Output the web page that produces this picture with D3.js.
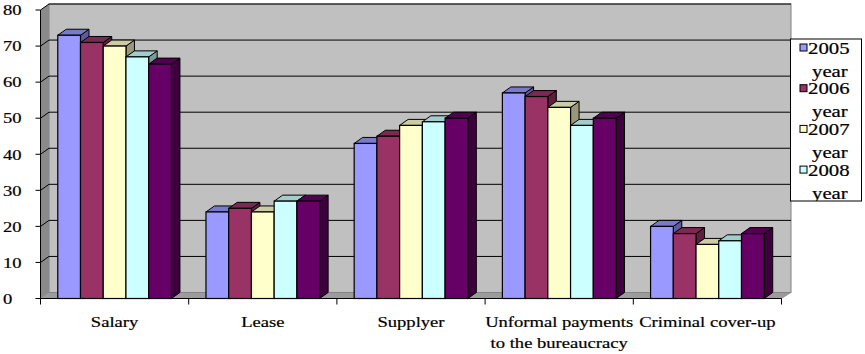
<!DOCTYPE html>
<html>
<head>
<meta charset="utf-8">
<script src="https://cdn.jsdelivr.net/npm/d3@7"></script>
<style>
body { margin: 0; background: #fff; }
</style>
</head>
<body>
<div id="chart"></div>
<script>
// data
var categories = ["Salary", "Lease", "Supplyer", "Unformal payments\nto the bureaucracy", "Criminal cover-up"];
var years = ["2005 year", "2006 year", "2007 year", "2008 year", "2009 year"];
var v2005 = [73, 24, 43, 57, 20];
var v2006 = [71, 25, 45, 56, 18];
var v2007 = [70, 24, 48, 53, 15];
var v2008 = [67, 27, 49, 48, 16];
var v2009 = [65, 27, 50, 50, 18];
var yTicks = [0, 10, 20, 30, 40, 50, 60, 70, 80];
var colors = ["#9999ff", "#993366", "#ffffcc", "#ccffff", "#660066"];

var series = [v2005, v2006, v2007, v2008, v2009];

var width = 865, height = 354;
var dx = 8.5, dy = -6;   // 3d depth offset
var stretch = 1.24;      // text looks wider than tall in the original
var serif = "'Liberation Serif', 'Times New Roman', Times, serif";

var svg = d3.select("#chart")
  .append("svg")
    .attr("width", width)
    .attr("height", height)
    .attr("font-family", serif);

svg.append("rect").attr("width", width).attr("height", height).attr("fill", "#fff");

var x0 = d3.scaleBand()
  .domain(categories)
  .range([40.5, 781.5])
  .paddingInner(0);

var x1 = d3.scaleBand()
  .domain(years)
  .range([0, x0.bandwidth()])
  .paddingInner(0)
  .paddingOuter(0.76);

var y = d3.scaleLinear()
  .domain([0, 80])
  .range([298.5, 10]);

var left = x0.range()[0], right = x0.range()[1];

// walls and floor
svg.append("rect")
  .attr("x", left + dx).attr("y", y(80) + dy)
  .attr("width", right - left + 1).attr("height", y(0) - y(80))
  .attr("fill", "#c0c0c0")
  .attr("stroke", "#808080");

svg.append("polygon")
  .attr("points", [[left, y(80)], [left + dx, y(80) + dy], [left + dx, y(0) + dy], [left, y(0)]].join(" "))
  .attr("fill", "#8a8a8a");

svg.append("polygon")
  .attr("points", [[left, y(0)], [left + dx, y(0) + dy], [right + dx + 1, y(0) + dy], [right, y(0)]].join(" "))
  .attr("fill", "#9c9c9c")
  .attr("stroke", "#808080")
  .attr("stroke-width", 0.6);

// gridlines on back wall and side wall
yTicks.filter(function(d) { return d > 0; }).forEach(function(v) {
  svg.append("line")
    .attr("x1", left + dx).attr("x2", right + dx + 1)
    .attr("y1", y(v) + dy).attr("y2", y(v) + dy)
    .attr("stroke", "#000");
  svg.append("line")
    .attr("x1", left).attr("x2", left + dx)
    .attr("y1", y(v)).attr("y2", y(v) + dy)
    .attr("stroke", "#000");
});

// value axis
svg.append("line")
  .attr("x1", left).attr("x2", left)
  .attr("y1", y(0)).attr("y2", y(80))
  .attr("stroke", "#000");

svg.selectAll(".ytick")
  .data(yTicks)
  .enter()
  .append("line")
    .attr("x1", left - 5).attr("x2", left)
    .attr("y1", function(d) { return y(d); })
    .attr("y2", function(d) { return y(d); })
    .attr("stroke", "#000");

svg.selectAll(".ylab")
  .data(yTicks)
  .enter()
  .append("text")
    .attr("transform", function(d) { return "translate(3," + y(d) + ") scale(" + stretch + ",1)"; })
    .attr("dy", "0.35em")
    .attr("font-family", serif)
    .attr("font-size", 15)
    .attr("stroke", "#000").attr("stroke-width", 0.2)
    .text(function(d) { return d; });

// bars
function shade(c, k) {
  var r = d3.rgb(c);
  return d3.rgb(r.r * k, r.g * k, r.b * k).toString();
}

categories.forEach(function(cat, i) {
  years.forEach(function(yr, j) {
    var v = series[j][i];
    var bx = x0(cat) + x1(yr), w = x1.bandwidth();
    var top = y(v), bottom = y(0);
    var g = svg.append("g");
    g.append("polygon")
      .attr("points", [[bx + w, top], [bx + w + dx, top + dy], [bx + w + dx, bottom + dy], [bx + w, bottom]].join(" "))
      .attr("fill", shade(colors[j], 0.6))
      .attr("stroke", "#000").attr("stroke-width", 1).attr("stroke-linejoin", "round");
    g.append("polygon")
      .attr("points", [[bx, top], [bx + dx, top + dy], [bx + w + dx, top + dy], [bx + w, top]].join(" "))
      .attr("fill", shade(colors[j], 0.8))
      .attr("stroke", "#000").attr("stroke-width", 1).attr("stroke-linejoin", "round");
    g.append("rect")
      .attr("x", bx).attr("y", top)
      .attr("width", w).attr("height", bottom - top)
      .attr("fill", colors[j])
      .attr("stroke", "#000").attr("stroke-width", 1.2);
  });
});

// category axis
svg.append("line")
  .attr("x1", left).attr("x2", right)
  .attr("y1", y(0)).attr("y2", y(0))
  .attr("stroke", "#000");

var bounds = categories.map(function(c) { return x0(c); }).concat([right]);
svg.selectAll(".xtick")
  .data(bounds)
  .enter()
  .append("line")
    .attr("x1", function(d) { return d; })
    .attr("x2", function(d) { return d; })
    .attr("y1", y(0)).attr("y2", y(0) + 6)
    .attr("stroke", "#000");

categories.forEach(function(cat) {
  var cx = x0(cat) + x0.bandwidth() / 2;
  cat.split("\n").forEach(function(line, k) {
    svg.append("text")
      .attr("transform", "translate(" + cx + "," + (327 + k * 21) + ") scale(" + stretch + ",1)")
      .attr("text-anchor", "middle")
      .attr("font-family", serif)
      .attr("font-size", 15)
      .attr("stroke", "#000").attr("stroke-width", 0.2)
      .text(line);
  });
});

// legend (the last entry does not fit in the box, as in the original)
var lg = svg.append("g");
lg.append("clipPath").attr("id", "lgclip")
  .append("rect").attr("x", 790.5).attr("y", 39).attr("width", 71).attr("height", 162);
lg.append("rect")
  .attr("x", 790.5).attr("y", 39).attr("width", 71).attr("height", 162)
  .attr("fill", "#fff").attr("stroke", "#000");

var items = lg.append("g").attr("clip-path", "url(#lgclip)")
  .selectAll("g")
  .data(years)
  .enter()
  .append("g")
    .attr("transform", function(d, i) { return "translate(0," + (48 + i * 40.7) + ")"; });

items.append("rect")
  .attr("x", 800).attr("y", -4).attr("width", 7).attr("height", 7)
  .attr("fill", function(d, i) { return colors[i]; })
  .attr("stroke", "#000");

items.append("text")
  .attr("transform", "translate(808,0) scale(1.3,1)")
  .attr("dy", "0.35em")
  .attr("font-family", serif)
  .attr("font-size", 16)
  .attr("stroke", "#000").attr("stroke-width", 0.2)
  .text(function(d) { return d.split(" ")[0]; });

items.append("text")
  .attr("transform", "translate(812,23) scale(1.3,1)")
  .attr("dy", "0.35em")
  .attr("font-family", serif)
  .attr("font-size", 16)
  .attr("stroke", "#000").attr("stroke-width", 0.2)
  .text(function(d) { return d.split(" ")[1]; });
</script>
</body>
</html>
